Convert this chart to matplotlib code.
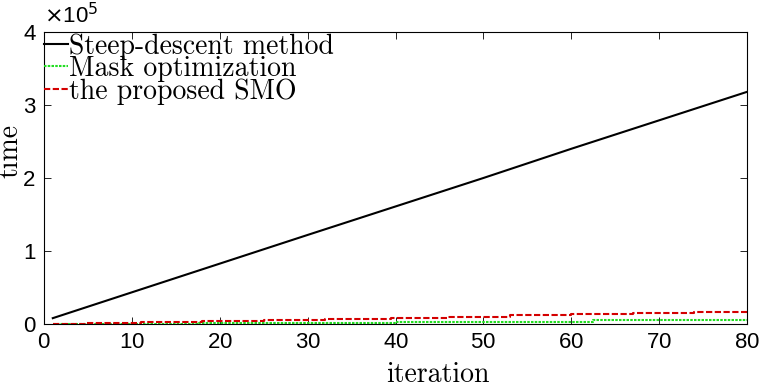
import matplotlib
matplotlib.use("Agg")
import matplotlib.pyplot as plt

# ---- data ----
steep_iter = [1, 10, 20, 30, 40, 50, 60, 70, 80]
steep_time = [8000, 43400, 82700, 122000, 161000, 200000, 240000, 279000, 318000]

mask_iter = [1, 17.5, 40, 62.5, 80]
mask_time = [500, 1800, 3200, 5000, 5000]

smo_iter = [1, 4.7, 11, 18, 25, 32, 39.5, 46, 53, 60, 67, 74, 80]
smo_time = [500, 1800, 2700, 3600, 5900, 7300, 7800, 10000, 11900, 13300, 14600, 16000, 16000]

labels = ["Steep-descent method", "Mask optimization", "the proposed SMO"]
x_ticks = [0, 10, 20, 30, 40, 50, 60, 70, 80]
y_ticks = [0, 1, 2, 3, 4]

serif = ["cmr10", "DejaVu Serif"]
sans = ["Liberation Sans", "DejaVu Sans"]
plt.rcParams["axes.formatter.use_mathtext"] = True

W, H = 762, 389
fig = plt.figure(figsize=(W / 100, H / 100), dpi=100)
ax = fig.add_axes([44 / W, 1 - 324 / H, 703 / W, 292 / H])

ax.plot(steep_iter, steep_time, color="black", lw=1.5, label=labels[0])
ax.plot(mask_iter, mask_time, color="#22dd22", lw=1.5, ls=(0, (1.2, 0.6)),
        drawstyle="steps-post", label=labels[1])
ax.plot(smo_iter, smo_time, color="#d40000", lw=1.5, ls=(0, (3, 1.2)),
        drawstyle="steps-post", label=labels[2])

ax.set_xlim(0, 80)
ax.set_ylim(0, 4e5)
ax.set_xticks(x_ticks)
ax.set_yticks([v * 1e5 for v in y_ticks])
ax.set_yticklabels([str(v) for v in y_ticks])
ax.tick_params(direction="in", top=True, right=True, length=5, width=0.6,
               labelsize=16, pad=6)
for lab in ax.get_xticklabels() + ax.get_yticklabels():
    lab.set_family(sans)
for s in ax.spines.values():
    s.set_linewidth(0.8)

# axis labels placed as in the reference
fig.text(438 / W, 1 - 375 / H, "iteration", family=serif, fontsize=20,
         ha="center", va="center")
fig.text(10 / W, 1 - 151 / H, "time", family=serif, fontsize=20,
         ha="center", va="center", rotation=90)
fig.text(0.058, 0.94, r"$\times$10$^5$", family=sans, fontsize=16)

leg = ax.legend(loc="upper left", frameon=False, prop={"family": serif, "size": 20},
                handlelength=0.85, handletextpad=0.05, labelspacing=-0.14,
                borderaxespad=0.0, borderpad=0.0,
                bbox_to_anchor=(0.0, 0.996))

fig.savefig("out.png", dpi=100)
